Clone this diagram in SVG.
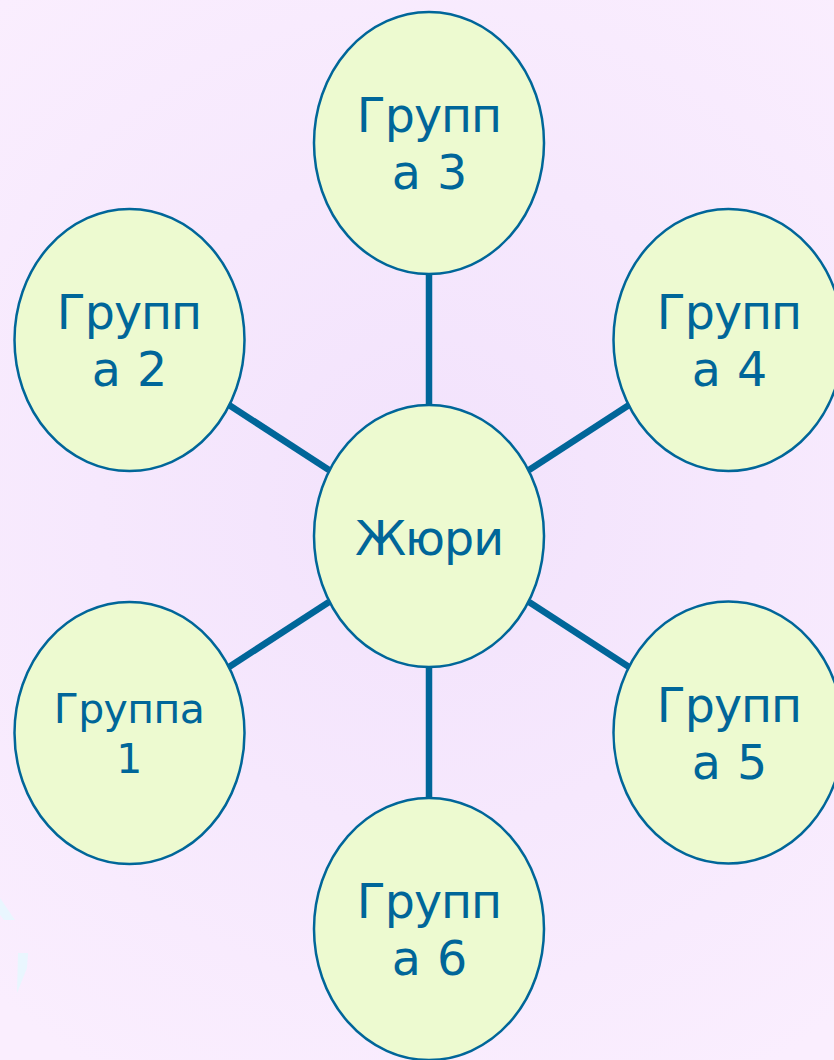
<svg xmlns="http://www.w3.org/2000/svg" width="834" height="1060" viewBox="0 0 834 1060">
<style>
.n{fill:#edfad0;stroke:#006699;stroke-width:2.500}
.c{stroke:#006699;stroke-width:6.500;fill:none}
text{font-family:"DejaVu Sans","Liberation Sans",sans-serif;fill:#006699;text-anchor:middle;font-size:47.500px;letter-spacing:-1px;word-spacing:3px}
.s{font-size:41px;letter-spacing:-.6px}
</style>
<defs><radialGradient id="bg" gradientUnits="userSpaceOnUse" cx="429" cy="500" r="660"><stop offset="0" stop-color="#f2e2fc"/><stop offset="1" stop-color="#faeefe"/></radialGradient></defs>
<rect width="834" height="1060" fill="url(#bg)"/>
<g fill="#e9f6fe"><path d="M0 898L15 920H4L0 915Z"/><path d="M18 953H28L27 968L17 993Z"/></g>
<g id="connectors">
<line class="c" x1="429" y1="274" x2="429" y2="405"/>
<line class="c" x1="229" y1="405" x2="329" y2="470"/>
<line class="c" x1="629" y1="405" x2="529" y2="470"/>
<line class="c" x1="229" y1="667" x2="329" y2="602"/>
<line class="c" x1="629" y1="667" x2="529" y2="602"/>
<line class="c" x1="429" y1="667" x2="429" y2="798"/>
</g>
<g id="group3"><ellipse class="n" cx="429" cy="143" rx="115" ry="131"/><text x="429" y="132">Групп</text><text x="429" y="189">а 3</text></g>
<g id="group2"><ellipse class="n" cx="129.500" cy="340" rx="115" ry="131"/><text x="129" y="329">Групп</text><text x="129" y="386">а 2</text></g>
<g id="group4"><ellipse class="n" cx="728.500" cy="340" rx="115" ry="131"/><text x="729" y="329">Групп</text><text x="729" y="386">а 4</text></g>
<g id="jury"><ellipse class="n" cx="429" cy="536" rx="115" ry="131"/><text x="429" y="555">Жюри</text></g>
<g id="group1"><ellipse class="n" cx="129.500" cy="733" rx="115" ry="131"/><text class="s" x="129" y="723">Группа</text><text class="s" x="129" y="773">1</text></g>
<g id="group5"><ellipse class="n" cx="728.500" cy="732.500" rx="115" ry="131"/><text x="729" y="722">Групп</text><text x="729" y="779">а 5</text></g>
<g id="group6"><ellipse class="n" cx="429" cy="929" rx="115" ry="131"/><text x="429" y="918">Групп</text><text x="429" y="975">а 6</text></g>
</svg>
